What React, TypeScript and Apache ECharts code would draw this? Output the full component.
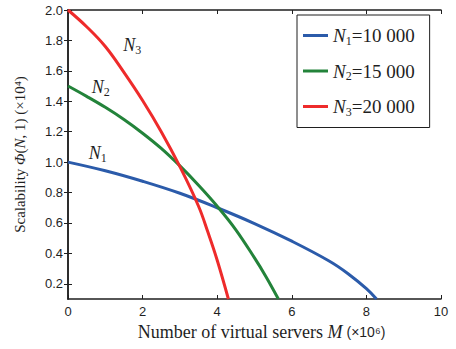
import React, { useEffect, useRef } from "react";
import * as echarts from "echarts";

const seriesNames = ["N1=10 000", "N2=15 000", "N3=20 000"];
const seriesColors = ["#2B5BAA", "#23833A", "#EE2B2B"];
const curveTags = ["1", "2", "3"];

const n1Points: number[][] = [
  [0, 1.0], [1, 0.943], [2, 0.874], [3, 0.795], [4, 0.7], [5, 0.596],
  [6, 0.48], [7, 0.35], [7.5, 0.268], [8.0, 0.168], [8.27, 0.1],
];
const n2Points: number[][] = [
  [0, 1.5], [0.5, 1.432], [1.0, 1.36], [1.5, 1.28], [2.0, 1.19], [2.5, 1.09],
  [3.0, 0.975], [3.5, 0.848], [4.0, 0.71], [4.5, 0.555], [5.0, 0.37],
  [5.3, 0.25], [5.64, 0.1],
];
const n3Points: number[][] = [
  [0, 2.0], [0.5, 1.89], [1.0, 1.76], [1.5, 1.59], [2.0, 1.405], [2.5, 1.2],
  [3.0, 0.97], [3.5, 0.71], [3.75, 0.54], [4.0, 0.355], [4.3, 0.1],
];
const labelCoords: number[][] = [[0.8, 1.06], [0.88, 1.494], [1.72, 1.77]];

const xTicks = [0, 2, 4, 6, 8, 10];
const yTicks = [0.2, 0.4, 0.6, 0.8, 1.0, 1.2, 1.4, 1.6, 1.8, 2.0];
const xRange = [0, 10];
const yRange = [0.1, 2.0];

const SERIF = "'Liberation Serif', 'DejaVu Serif', serif";
const SANS = "'Liberation Sans', Arial, sans-serif";
const INK = "#1f1f1f";

const makeRich = (size: number) => ({
  n: { fontFamily: SERIF, fontStyle: "italic", fontSize: size, color: INK, lineHeight: 24 },
  s: { fontFamily: SERIF, fontSize: 12, color: INK, lineHeight: 24, verticalAlign: "bottom", padding: [0, 0, 1, 0] },
  t: { fontFamily: SERIF, fontSize: size, color: INK, lineHeight: 24 },
});

export default function App() {
  const ref = useRef<HTMLDivElement>(null);
  useEffect(() => {
    if (!ref.current) return;
    document.body.style.margin = "0";
    const chart = echarts.init(ref.current, null, { renderer: "svg" });
    const allPoints = [n1Points, n2Points, n3Points];
    const frameLine = { show: true, lineStyle: { color: INK, width: 1.5 } };
    const option: any = {
      animation: false,
      backgroundColor: "#ffffff",
      grid: { left: 68, top: 10, right: 15, bottom: 50 },
      legend: {
        orient: "vertical",
        left: 297,
        top: 15,
        padding: [11, 15, 9, 6],
        itemGap: 14,
        borderColor: INK,
        borderWidth: 1,
        backgroundColor: "#ffffff",
        icon: "rect",
        itemWidth: 25,
        itemHeight: 3,
        data: seriesNames,
        formatter: (name: string) => {
          const sub = name.charAt(1);
          const rest = name.slice(2);
          return `{n|N}{s|${sub}}{t|${rest}}`;
        },
        textStyle: { rich: makeRich(19) },
      },
      xAxis: [
        {
          type: "value",
          min: xRange[0],
          max: xRange[1],
          interval: 2,
          position: "bottom",
          axisLine: frameLine,
          axisTick: { show: true, inside: true, length: 4, lineStyle: { color: INK } },
          splitLine: { show: false },
          axisLabel: {
            margin: 6,
            fontFamily: SANS,
            fontSize: 13,
            color: INK,
            customValues: xTicks,
          },
          name: "{a|Number of virtual servers }{b|M}{c| (×10⁶)}",
          nameLocation: "middle",
          nameGap: 23,
          nameTextStyle: {
            padding: [0, 0, 0, 14],
            rich: {
              a: { fontFamily: SERIF, fontSize: 18, color: INK },
              b: { fontFamily: SERIF, fontStyle: "italic", fontSize: 18, color: INK },
              c: { fontFamily: SANS, fontSize: 14, color: INK },
            },
          },
        },
        {
          type: "value",
          min: xRange[0],
          max: xRange[1],
          interval: 2,
          position: "top",
          axisLine: frameLine,
          axisTick: { show: true, inside: true, length: 4, lineStyle: { color: INK } },
          axisLabel: { show: false },
          splitLine: { show: false },
        },
      ],
      yAxis: [
        {
          type: "value",
          min: yRange[0],
          max: yRange[1],
          position: "left",
          axisLine: frameLine,
          axisTick: { show: true, inside: true, length: 4, lineStyle: { color: INK }, customValues: yTicks },
          splitLine: { show: false },
          axisLabel: {
            margin: 5,
            fontFamily: SANS,
            fontSize: 13,
            color: INK,
            customValues: yTicks,
            formatter: (v: number) => v.toFixed(1),
          },
          name: "{a|Scalability }{b|Φ}{a|(}{b|N}{a|, 1) (×10⁴)}",
          nameLocation: "middle",
          nameGap: 41,
          nameTextStyle: {
            rich: {
              a: { fontFamily: SERIF, fontSize: 15, color: INK },
              b: { fontFamily: SERIF, fontStyle: "italic", fontSize: 15, color: INK },
            },
          },
        },
        {
          type: "value",
          min: yRange[0],
          max: yRange[1],
          position: "right",
          axisLine: frameLine,
          axisTick: { show: true, inside: true, length: 4, lineStyle: { color: INK }, customValues: yTicks },
          axisLabel: { show: false },
          splitLine: { show: false },
        },
      ],
      series: seriesNames.map((name, i) => ({
        name,
        type: "line",
        xAxisIndex: 0,
        yAxisIndex: 0,
        data: allPoints[i],
        showSymbol: false,
        smooth: 0.4,
        lineStyle: { color: seriesColors[i], width: 3 },
        itemStyle: { color: seriesColors[i] },
        markPoint: {
          symbol: "circle",
          symbolSize: 1,
          itemStyle: { color: "rgba(0,0,0,0)" },
          label: {
            show: true,
            position: "inside",
            formatter: `{n|N}{s|${curveTags[i]}}`,
            rich: makeRich(18),
          },
          data: [{ coord: labelCoords[i] }],
        },
      })),
    };
    chart.setOption(option);
    return () => chart.dispose();
  }, []);
  return <div ref={ref} style={{ width: 456, height: 349 }} />;
}
